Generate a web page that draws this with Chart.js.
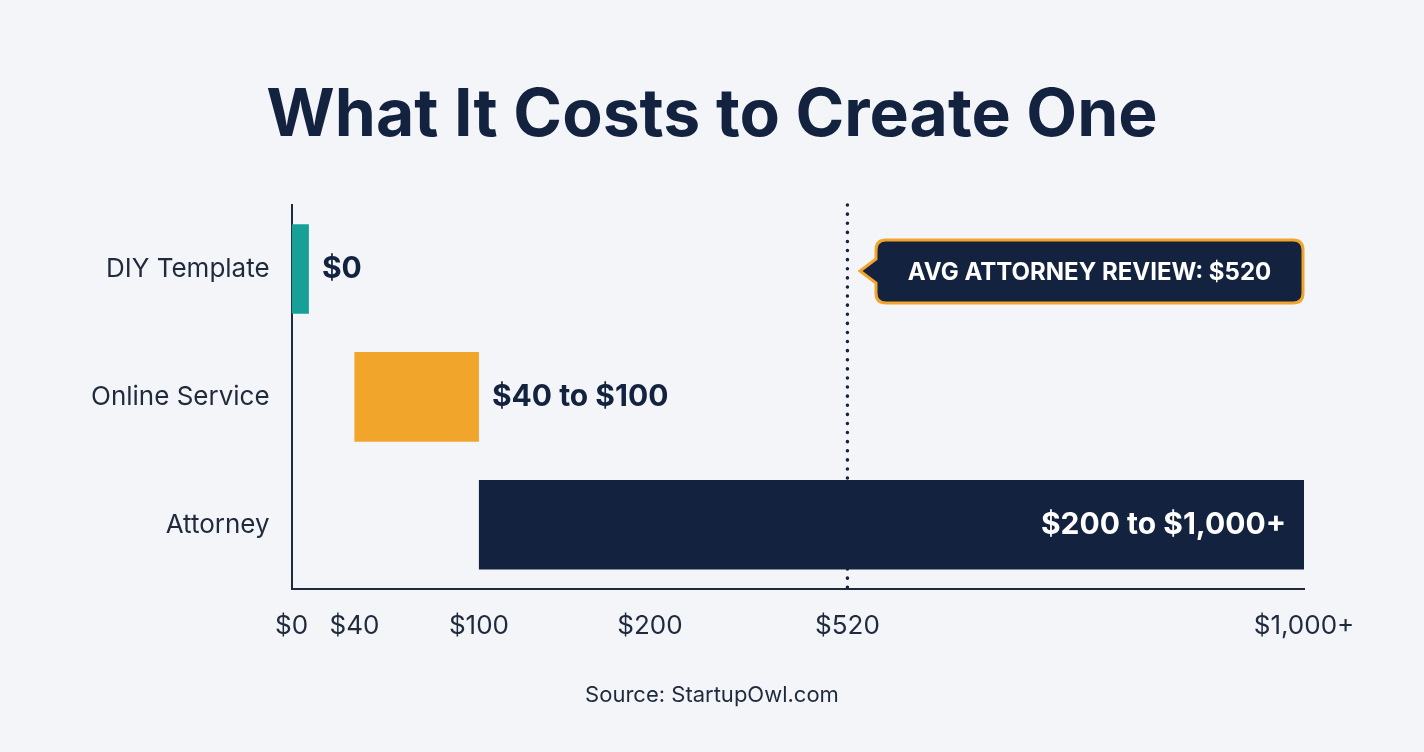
<!DOCTYPE html>
<html><head><meta charset="utf-8">
<script src="https://cdn.jsdelivr.net/npm/chart.js@4/dist/chart.umd.min.js"></script>
<style>html,body{margin:0;padding:0;background:#f3f5f9;}#w{width:1424px;height:752px;}</style>
</head><body><div id="w"><canvas id="c"></canvas></div>
<script>
const categories = ["DIY Template","Online Service","Attorney"];
const rangeStart = [0, 40, 100];
const rangeEnd = [11, 100, 1000];
const valueLabels = ["$0","$40 to $100","$200 to $1,000+"];
const tickValues = [0, 40, 100, 200, 520, 1000];
const tickLabels = ["$0","$40","$100","$200","$520","$1,000+"];
const tickFractions = [0, 0.062, 0.185, 0.354, 0.549, 1];
const avgValue = 520;
const avgLabel = "AVG ATTORNEY REVIEW: $520";
const colors = ["#16a098","#f2a52b","#13233f"];

class PiecewiseScale extends Chart.LinearScale {
  determineDataLimits(){ this.min = tickValues[0]; this.max = tickValues[tickValues.length-1]; }
  buildTicks(){ return tickValues.map(v=>({value:v})); }
  frac(v){
    for(let i=1;i<tickValues.length;i++){
      if(v<=tickValues[i]){const a=tickValues[i-1],b=tickValues[i];
        return tickFractions[i-1]+(v-a)/(b-a)*(tickFractions[i]-tickFractions[i-1]);}
    }
    return 1;
  }
  getPixelForValue(v){ return this.left + this.frac(v)*(this.right-this.left); }
  getValueForPixel(p){
    const f=(p-this.left)/(this.right-this.left);
    for(let i=1;i<tickFractions.length;i++){ if(f<=tickFractions[i]){
      const a=tickFractions[i-1],b=tickFractions[i];
      return tickValues[i-1]+(f-a)/(b-a)*(tickValues[i]-tickValues[i-1]);}}
    return this.max;
  }
}
PiecewiseScale.id='piecewise';
PiecewiseScale.defaults=Chart.LinearScale.defaults;
Chart.register(PiecewiseScale);

const extras = {
  id:'extras',
  afterDatasetsDraw(chart){
    const {ctx, chartArea:ca, scales:{x,y}} = chart;
    const meta = chart.getDatasetMeta(0);
    ctx.save();
    ctx.font = 'bold 30px Inter, "Noto Sans", sans-serif';
    ctx.textBaseline='middle';
    meta.data.forEach((b,i)=>{
      if(i===2){ctx.fillStyle='#ffffff';ctx.textAlign='right';ctx.fillText(valueLabels[i], b.x-18, b.y);}
      else {ctx.fillStyle='#13233f';ctx.textAlign='left';ctx.fillText(valueLabels[i], b.x+13, b.y);}
    });
    const ax = x.getPixelForValue(avgValue);
    ctx.strokeStyle='#13233f';ctx.lineWidth=3.5;ctx.setLineDash([0.1,9]);ctx.lineCap='round';
    ctx.beginPath();ctx.moveTo(ax,ca.top);ctx.lineTo(ax,ca.bottom);ctx.stroke();
    ctx.setLineDash([]);
    const bx=876, by=240, bw=427, bh=63, r=10, cy=y.getPixelForValue(0)+2;
    ctx.beginPath();
    ctx.moveTo(bx+r,by);ctx.lineTo(bx+bw-r,by);ctx.quadraticCurveTo(bx+bw,by,bx+bw,by+r);
    ctx.lineTo(bx+bw,by+bh-r);ctx.quadraticCurveTo(bx+bw,by+bh,bx+bw-r,by+bh);
    ctx.lineTo(bx+r,by+bh);ctx.quadraticCurveTo(bx,by+bh,bx,by+bh-r);
    ctx.lineTo(bx,cy+12);ctx.lineTo(bx-16,cy);ctx.lineTo(bx,cy-12);
    ctx.lineTo(bx,by+r);ctx.quadraticCurveTo(bx,by,bx+r,by);ctx.closePath();
    ctx.fillStyle='#13233f';ctx.fill();ctx.strokeStyle='#f2a52b';ctx.lineWidth=3;ctx.stroke();
    ctx.fillStyle='#ffffff';ctx.font='bold 24px Inter, "Noto Sans", sans-serif';ctx.textAlign='center';
    ctx.fillText(avgLabel,bx+bw/2,by+bh/2+1);
    ctx.fillStyle='#13233f';ctx.font='bold 66px Inter, "Noto Sans", sans-serif';
    ctx.fillText('What It Costs to Create One',712,116);
    ctx.fillStyle='#1f2a3c';ctx.font='22px Inter, "Noto Sans", sans-serif';
    ctx.fillText('Source: StartupOwl.com',712,695);
    ctx.restore();
  }
};

new Chart(document.getElementById('c'),{
  type:'bar',
  data:{labels:categories,datasets:[{data:rangeStart.map((s,i)=>[s,rangeEnd[i]]),backgroundColor:colors,
    categoryPercentage:0.7,barPercentage:1,borderSkipped:false}]},
  options:{indexAxis:'y',responsive:true,maintainAspectRatio:false,animation:false,
    layout:{padding:{top:205,bottom:96,right:120,left:77}},
    plugins:{legend:{display:false},tooltip:{enabled:false}},
    scales:{
      x:{type:'piecewise',grid:{display:false},border:{color:'#1f2a3c',width:2},
        ticks:{autoSkip:false,maxRotation:0,padding:14,color:'#1f2a3c',font:{size:26,family:'Inter, "Noto Sans", sans-serif'},
          callback:(v)=>tickLabels[tickValues.indexOf(v)]}},
      y:{grid:{display:false},border:{color:'#1f2a3c',width:2},
        ticks:{padding:14,color:'#1f2a3c',font:{size:26,family:'Inter, "Noto Sans", sans-serif'}}}
    }},
  plugins:[extras]
});
</script></body></html>
